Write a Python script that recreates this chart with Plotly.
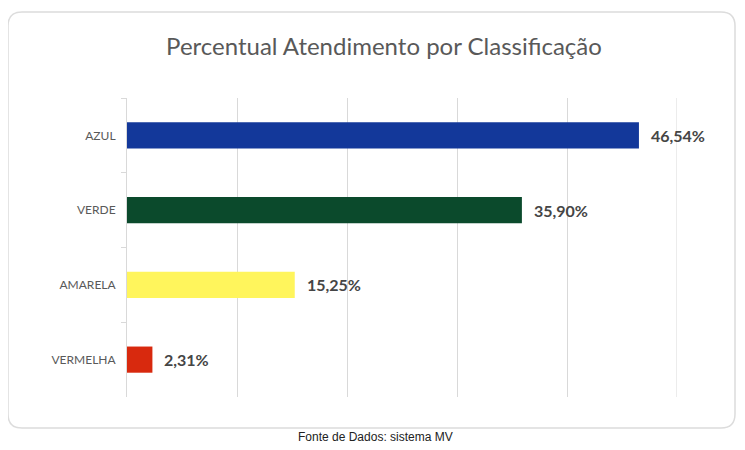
import plotly.graph_objects as go

categories = ["AZUL", "VERDE", "AMARELA", "VERMELHA"]
values = [46.54, 35.90, 15.25, 2.31]
labels = ["46,54%", "35,90%", "15,25%", "2,31%"]
colors = ["#13389a", "#0b4a2c", "#fff55c", "#d8290e"]
grid_max = 50

# page offset (default body margin) compensation
OFF = 8
W, H = 745 - OFF, 450 - OFF
L = 127 - OFF
T = 98 - OFF
R = W - (677 - OFF)
B = H - (397 - OFF)
pw, ph = W - L - R, H - T - B

def px(x):
    return (x - OFF - L) / pw

def py(y):
    return (H - B - (y - OFF)) / ph

fig = go.Figure()
fig.add_trace(go.Bar(
    x=values, y=categories, orientation="h",
    marker=dict(color=colors, line=dict(width=0)),
    width=0.35, hoverinfo="skip",
))

for v, c, t in zip(values, categories, labels):
    fig.add_annotation(x=v, y=c, text=t, showarrow=False, xanchor="left",
                       xshift=10, font=dict(family="Lato, Open Sans, sans-serif",
                                            size=16, color="#454545", weight="bold"))

x0, x1, y0, y1, r = 8, 735, 12, 428, 14
path = (f"M {px(x0 + r)},{py(y0)} L {px(x1 - r)},{py(y0)} "
        f"Q {px(x1)},{py(y0)} {px(x1)},{py(y0 + r)} "
        f"L {px(x1)},{py(y1 - r)} Q {px(x1)},{py(y1)} {px(x1 - r)},{py(y1)} "
        f"L {px(x0 + r)},{py(y1)} Q {px(x0)},{py(y1)} {px(x0)},{py(y1 - r)} "
        f"L {px(x0)},{py(y0 + r)} Q {px(x0)},{py(y0)} {px(x0 + r)},{py(y0)} Z")
fig.add_shape(type="path", path=path, xref="paper", yref="paper",
              line=dict(color="#dcdcdc", width=1.5), layer="below")

# last gridline at the right edge of the plot area
fig.add_shape(type="line", x0=grid_max, x1=grid_max, xref="x", y0=0, y1=1, yref="paper",
              line=dict(color="#d9d9d9", width=1), layer="below")

fig.add_annotation(text="Fonte de Dados: sistema MV", xref="paper", yref="paper",
                   x=px(375), y=py(437), showarrow=False, xanchor="center", yanchor="middle",
                   font=dict(family="Liberation Sans, Arial, sans-serif", size=12, color="#222222"))

fig.update_layout(
    width=W, height=H,
    margin=dict(l=L, r=R, t=T, b=B),
    paper_bgcolor="white", plot_bgcolor="white",
    title=dict(text="Percentual Atendimento por Classificação",
               x=(384 - OFF) / W, xanchor="center", y=1 - (47 - OFF) / H, yanchor="middle",
               font=dict(family="Lato, Open Sans, sans-serif", size=24, color="#595959")),
    showlegend=False,
    xaxis=dict(range=[0, grid_max], dtick=10, showticklabels=False, showgrid=True,
               gridcolor="#d9d9d9", gridwidth=1, zeroline=False, showline=False, fixedrange=True),
    yaxis=dict(autorange="reversed", showline=True, linecolor="#d9d9d9", linewidth=1,
               ticks="outside", tickson="boundaries", ticklen=5, tickcolor="#d9d9d9",
               ticklabelstandoff=8, showgrid=False,
               tickfont=dict(family="Lato, Open Sans, sans-serif", size=12, color="#595959")),
)

fig.write_html("out.html")
